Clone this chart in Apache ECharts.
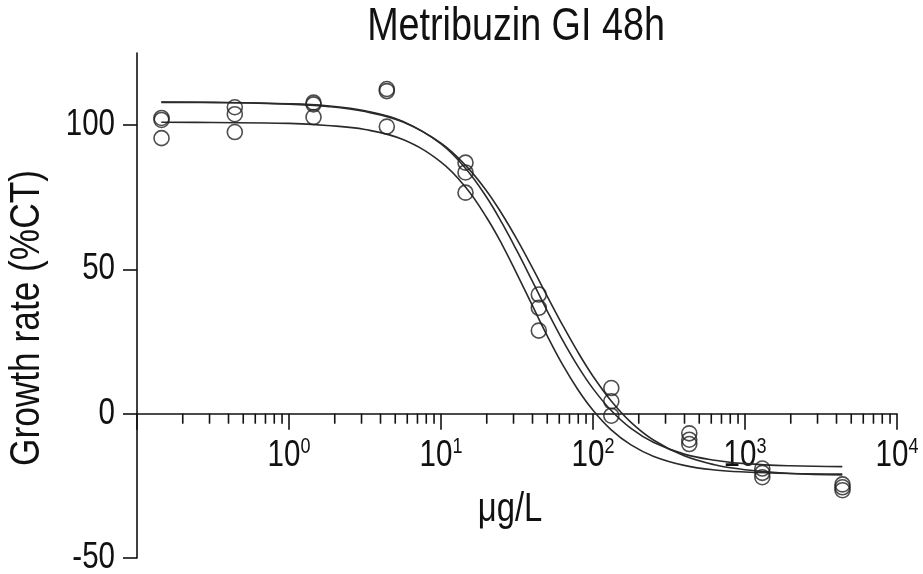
<!DOCTYPE html>
<html>
<head>
<meta charset="utf-8">
<script src="https://cdn.jsdelivr.net/npm/echarts@6/dist/echarts.min.js"></script>
<style>
html,body{margin:0;padding:0;background:#fff;}
#chart{width:923px;height:574px;}
</style>
</head>
<body>
<div id="chart"></div>
<script>
const titleText = 'Metribuzin GI 48h';
const xAxisTitle = 'μg/L';
const yAxisTitle = 'Growth rate (%CT)';
const yTicks = [-50, 0, 50, 100];
const xTickValues = [1, 10, 100, 1000, 10000];
const xTickExponents = ['0', '1', '2', '3', '4'];

// measured concentrations (µg/L) and three replicate growth rates
const concentrations = [0.145, 0.44, 1.45, 4.4, 14.5, 44, 132, 430, 1300, 4380];
const rep1 = [102.5, 106.2, 107.8, 112.5, 87.0, 41.3, 8.9, -6.8, -19.0, -24.5];
const rep2 = [101.8, 103.8, 107.2, 111.8, 83.6, 36.7, 4.3, -9.0, -20.5, -25.5];
const rep3 = [95.5, 97.6, 102.8, 99.5, 76.6, 28.8, -0.7, -10.5, -22.0, -26.5];

// fitted curves
const curveX = [0.1445, 0.3162, 1, 1.778, 3.162, 5.623, 10, 14.62, 19.95, 25.12, 31.62, 39.81, 50.12, 63.10, 79.43, 100, 131.8, 177.8, 251.2, 398.1, 631.0, 1000, 1995, 4365];
const fitA = [101.0, 100.9, 100.6, 99.9, 98.5, 95.0, 87.2, 78.3, 68.0, 58.8, 48.4, 37.6, 26.9, 17.0, 8.4, 1.2, -5.6, -10.8, -14.8, -17.9, -19.5, -20.2, -20.7, -20.9];
const fitB = [108.0, 107.9, 107.4, 106.7, 105.0, 101.3, 93.5, 84.8, 75.0, 66.2, 56.4, 46.0, 35.5, 25.5, 16.5, 8.7, 1.1, -5.1, -10.0, -14.0, -16.1, -17.3, -18.05, -18.35];
const fitC = [107.9, 107.85, 107.3, 106.5, 104.7, 101.1, 93.8, 85.9, 77.2, 69.3, 60.4, 50.7, 40.6, 30.7, 21.4, 13.0, 4.4, -3.0, -9.2, -14.6, -17.7, -19.4, -20.7, -21.2];

// minor tick positions of the log axis
const minorTicks = [0.2,0.3,0.4,0.5,0.6,0.7,0.8,0.9, 2,3,4,5,6,7,8,9, 20,30,40,50,60,70,80,90, 200,300,400,500,600,700,800,900, 2000,3000,4000,5000,6000,7000,8000,9000];

const FONT = "'Liberation Sans', Arial, sans-serif";
const NARROW = 0.82;
const INK = '#111';
const LINE = '#2a2a2a';

function pairs(xs, ys){ return xs.map((x,i)=>[x, ys[i]]); }

const chart = echarts.init(document.getElementById('chart'), null, {renderer:'canvas'});

const curveSeries = [fitA, fitB, fitC].map(f => ({
  type: 'line', data: pairs(curveX, f), smooth: 0.4, showSymbol: false, symbol: 'none',
  lineStyle: {color: LINE, width: 1.6}, z: 2, silent: true
}));
const pointSeries = [rep1, rep2, rep3].map(r => ({
  type: 'scatter', data: pairs(concentrations, r), symbol: 'circle', symbolSize: 15,
  itemStyle: {color: 'rgba(255,255,255,0)', borderColor: '#222', borderWidth: 1.6}, z: 3, silent: true
}));

chart.setOption({
  animation: false,
  backgroundColor: '#fff',
  grid: {left: 137, right: 26, top: 53, bottom: 16, containLabel: false, outerBoundsMode: 'none'},
  graphic: [
    {type: 'text', x: 516, y: 4, scaleX: NARROW, silent: true,
      style: {text: titleText, fontFamily: FONT, fontSize: 46, fill: INK, align: 'center', verticalAlign: 'top'}},
    {type: 'text', x: 510, y: 490, scaleX: NARROW, silent: true,
      style: {text: xAxisTitle, fontFamily: FONT, fontSize: 40, fill: INK, align: 'center', verticalAlign: 'top'}},
    {type: 'text', x: 27, y: 318, rotation: Math.PI / 2, scaleX: NARROW, silent: true,
      style: {text: yAxisTitle, fontFamily: FONT, fontSize: 43, fill: INK, align: 'center', verticalAlign: 'middle'}}
  ],
  xAxis: {
    type: 'log', logBase: 10, min: 0.1, max: 10000,
    axisLine: {onZero: true, lineStyle: {color: INK, width: 1.6}},
    axisTick: {show: true, inside: false, length: 16, lineStyle: {color: INK, width: 1.6}},
    minorTick: {show: false},
    splitLine: {show: false},
    axisLabel: {show: false}
  },
  yAxis: {
    type: 'value', min: -50, max: 125, interval: 50,
    axisLine: {show: true, lineStyle: {color: INK, width: 1.6}},
    axisTick: {show: true, inside: false, length: 14, lineStyle: {color: INK, width: 1.6}, customValues: yTicks},
    splitLine: {show: false},
    axisLabel: {show: false}
  },
  series: [
    {
      type: 'custom', silent: true, z: 1,
      data: minorTicks.map(v => [v, 0]),
      renderItem: function(params, api){
        const p = api.coord([api.value(0), 0]);
        return {type: 'line', shape: {x1: p[0], y1: p[1], x2: p[0], y2: p[1] + 10},
          style: {stroke: INK, lineWidth: 1.6}};
      }
    },
    {
      type: 'custom', silent: true, z: 1, clip: false,
      data: xTickValues.map(v => [v, 0]),
      renderItem: function(params, api){
        const p = api.coord([api.value(0), 0]);
        return {type: 'text', x: p[0], y: p[1] + 22, scaleX: NARROW,
          style: {
            text: '{b|10}{s|' + xTickExponents[params.dataIndex] + '}',
            align: 'center', verticalAlign: 'top',
            rich: {
              b: {fontFamily: FONT, fontSize: 36, fill: INK, lineHeight: 40},
              s: {fontFamily: FONT, fontSize: 22, fill: INK, lineHeight: 28, verticalAlign: 'top'}
            }
          }};
      }
    },
    {
      type: 'custom', silent: true, z: 1, clip: false,
      data: yTicks.map(v => [0.1, v]),
      renderItem: function(params, api){
        const p = api.coord([api.value(0), api.value(1)]);
        return {type: 'text', x: p[0] - 22, y: p[1], scaleX: NARROW,
          style: {text: String(yTicks[params.dataIndex]), fontFamily: FONT, fontSize: 36, fill: INK,
            align: 'right', verticalAlign: 'middle'}};
      }
    }
  ].concat(curveSeries, pointSeries)
});
</script>
</body>
</html>
